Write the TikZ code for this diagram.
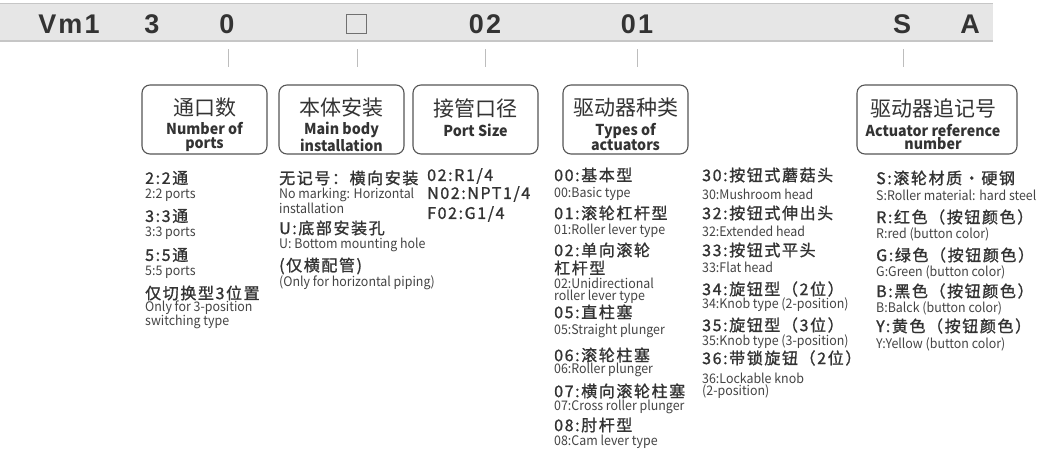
\documentclass[tikz,border=0pt]{standalone}
\usepackage{fontspec}
\setmainfont{Noto Sans CJK SC}
\newfontfamily\hdrfont{Liberation Sans}[LetterSpace=8]
\newfontfamily\cjkreg{Noto Sans CJK SC}
\newfontfamily\cjksmall{Noto Sans CJK SC}[FakeStretch=0.94]
\newfontfamily\cjkbox{Noto Sans CJK SC}[FakeStretch=0.95]
\newfontfamily\cjkmed{Noto Sans CJK SC}[LetterSpace=10,FakeBold=1.2]
\definecolor{barc}{HTML}{E6E6E6}
\definecolor{barl}{HTML}{C6C6C6}
\definecolor{hdc}{HTML}{333333}
\definecolor{txc}{HTML}{333333}
\definecolor{iec}{HTML}{444444}
\definecolor{bxc}{HTML}{555555}
\definecolor{tkc}{HTML}{BDBDBD}
\tikzset{
  hd/.style={font=\hdrfont\bfseries\fontsize{27}{30}\selectfont, text=hdc, inner sep=0pt},
  bx/.style={draw=bxc, line width=1.1pt, rounded corners=8pt, minimum width=125pt, minimum height=69pt, inner sep=0pt},
  bt/.style={font=\cjkreg\fontsize{21}{24}\selectfont, text=txc, inner sep=0pt},
  be/.style={font=\cjkbox\bfseries\fontsize{15}{13.5}\selectfont, align=center, text=txc, inner sep=0pt},
  it/.style={font=\cjkmed\fontsize{16}{18}\selectfont, text=txc, anchor=west, inner sep=0pt},
  ie/.style={font=\cjksmall\fontsize{13.2}{14}\selectfont, text=iec, anchor=west, inner sep=0pt},
  tick/.style={draw=tkc, line width=0.9pt}
}
\begin{document}
\begin{tikzpicture}[x=1pt,y=-1pt]
\useasboundingbox (0,0) rectangle (1041,456);
\fill[white] (0,0) rectangle (1041,456);
% header bar
\fill[barc] (0,3.5) rectangle (993,41);
\draw[barl, line width=1.4pt] (0,3.5) -- (993,3.5);
\draw[barl, line width=1.4pt] (0,41) -- (993,41);
\node[hd] (h1) at (69,24) {Vm1};
\node[hd] (h2) at (152,24) {3};
\node[hd] (h3) at (227,24) {0};
\node[draw=hdc!70, line width=1pt, minimum width=20pt, minimum height=19pt, inner sep=0pt] (h4) at (356,24) {};
\node[hd] (h5) at (485,24) {02};
\node[hd] (h6) at (637,24) {01};
\node[hd] (h7) at (902,24) {S};
\node[hd] (h8) at (970,24) {A};
% ticks
\foreach \n/\x in {1/228,2/357,3/485,4/637,5/903}{
  \coordinate (ta\n) at (\x,49);
  \coordinate (tb\n) at (\x,67);
  \draw[tick] (ta\n) -- (tb\n);
}
% boxes
\node[bx] (b1) at (204.5,119.5) {};
\node[bt] (b1t) at (204.5,108) {通口数};
\node[be] (b1e) at (204.5,137) {Number of\\ports};
\node[bx] (b2) at (341.5,119.5) {};
\node[bt] (b2t) at (341.5,108) {本体安装};
\node[be] (b2e) at (341.5,137) {Main body\\installation};
\node[bx] (b3) at (475.5,119.5) {};
\node[bt] (b3t) at (475.5,108) {接管口径};
\node[be] (b3e) at (475.5,130) {Port Size};
\node[bx] (b4) at (625.5,119.5) {};
\node[bt] (b4t) at (625.5,108) {驱动器种类};
\node[be] (b4e) at (625.5,137) {Types of\\actuators};
\node[bx, minimum width=160pt] (b5) at (937,119.5) {};
\node[bt] (b5t) at (933,108) {驱动器追记号};
\node[be] (b5e) at (933,137) {Actuator reference\\number};
% column 1
\node[it] (c1a) at (145,178) {2:2通};
\node[ie] (c1b) at (145,195) {2:2 ports};
\node[it] (c1c) at (145,216) {3:3通};
\node[ie] (c1d) at (145,233) {3:3 ports};
\node[it] (c1e) at (145,255) {5:5通};
\node[ie] (c1f) at (145,272) {5:5 ports};
\node[it] (c1g) at (145,293) {仅切换型3位置};
\node[ie] (c1h) at (145,308) {Only for 3-position};
\node[ie] (c1i) at (145,322) {switching type};
% column 2
\node[it] (c2a) at (279,178) {无记号：横向安装};
\node[ie] (c2b) at (279,195) {No marking: Horizontal};
\node[ie] (c2c) at (279,208) {installation};
\node[it] (c2d) at (279,228) {U:底部安装孔};
\node[ie] (c2e) at (279,245) {U: Bottom mounting hole};
\node[it] (c2f) at (279,266) {(仅横配管)};
\node[ie] (c2g) at (279,283) {(Only for horizontal piping)};
% column 3
\node[it] (c3a) at (427,176) {02:R1/4};
\node[it] (c3b) at (427,194) {N02:NPT1/4};
\node[it] (c3c) at (427,214) {F02:G1/4};
% column 4
\node[it] (c4a) at (554,175) {00:基本型};
\node[ie] (c4b) at (554,194) {00:Basic type};
\node[it] (c4c) at (554,213) {01:滚轮杠杆型};
\node[ie] (c4d) at (554,231) {01:Roller lever type};
\node[it] (c4e) at (554,250) {02:单向滚轮};
\node[it] (c4f) at (554,268) {杠杆型};
\node[ie] (c4g) at (554,283) {02:Unidirectional};
\node[ie] (c4h) at (554,297) {roller lever type};
\node[it] (c4i) at (554,312) {05:直柱塞};
\node[ie] (c4j) at (554,331) {05:Straight plunger};
\node[it] (c4k) at (554,355) {06:滚轮柱塞};
\node[ie] (c4l) at (554,370) {06:Roller plunger};
\node[it] (c4m) at (554,391) {07:横向滚轮柱塞};
\node[ie] (c4n) at (554,407) {07:Cross roller plunger};
\node[it] (c4o) at (554,425) {08:肘杆型};
\node[ie] (c4p) at (554,442) {08:Cam lever type};
% column 5
\node[it] (c5a) at (702,175) {30:按钮式蘑菇头};
\node[ie] (c5b) at (702,194) {30:Mushroom head};
\node[it] (c5c) at (702,213) {32:按钮式伸出头};
\node[ie] (c5d) at (702,231) {32:Extended head};
\node[it] (c5e) at (702,250) {33:按钮式平头};
\node[ie] (c5f) at (702,267) {33:Flat head};
\node[it] (c5g) at (702,289) {34:旋钮型（2位）};
\node[ie] (c5h) at (702,305) {34:Knob type (2-position)};
\node[it] (c5i) at (702,325) {35:旋钮型（3位）};
\node[ie] (c5j) at (702,342) {35:Knob type (3-position)};
\node[it] (c5k) at (702,358) {36:带锁旋钮（2位）};
\node[ie] (c5l) at (702,378) {36:Lockable knob};
\node[ie] (c5m) at (702,392) {(2-position)};
% column 6
\node[it] (c6a) at (876,178) {S:滚轮材质·硬钢};
\node[ie] (c6b) at (876,195) {S:Roller material: hard steel};
\node[it] (c6c) at (876,217) {R:红色（按钮颜色）};
\node[ie] (c6d) at (876,234) {R:red (button color)};
\node[it] (c6e) at (876,255) {G:绿色（按钮颜色）};
\node[ie] (c6f) at (876,272) {G:Green (button color)};
\node[it] (c6g) at (876,291) {B:黑色（按钮颜色）};
\node[ie] (c6h) at (876,308) {B:Balck (button color)};
\node[it] (c6i) at (876,326) {Y:黄色（按钮颜色）};
\node[ie] (c6j) at (876,344) {Y:Yellow (button color)};
\end{tikzpicture}
\end{document}
